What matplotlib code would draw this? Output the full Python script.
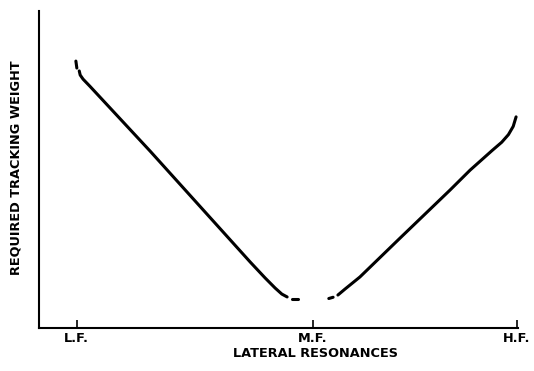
import matplotlib
matplotlib.use("Agg")
import matplotlib.pyplot as plt

# frequency axis runs 0..100, tracking weight 0..100 (arbitrary units)
tick_pos = [7.9, 57.2, 99.8]
tick_labels = ["L.F.", "M.F.", "H.F."]

# falling branch (low-frequency side), drawn as three pieces
lf_dash_x = [7.7, 7.9]
lf_dash_y = [84.2, 82.0]
lf_x = [8.4, 8.6, 9.2, 10.6, 23.2, 44.1, 47.2, 49.3, 50.7, 51.8]
lf_y = [81.1, 79.8, 78.5, 76.3, 55.8, 20.8, 15.8, 12.6, 10.7, 9.8]
lf_tail_x = [52.8, 54.1]
lf_tail_y = [9.1, 9.1]

# rising branch (high-frequency side)
hf_head_x = [60.5, 61.4]
hf_head_y = [9.3, 9.7]
hf_x = [62.4, 63.9, 67.0, 75.4, 85.8, 90.0, 94.6, 96.6, 98.0, 99.0, 99.6]
hf_y = [10.4, 12.3, 16.1, 28.4, 43.5, 49.8, 56.0, 58.6, 61.0, 63.6, 66.6]

fig = plt.figure(figsize=(5.34, 3.71), dpi=100)
ax = fig.add_axes([39 / 534, 43 / 371, 479 / 534, 317 / 371])

line_kw = dict(color="black", lw=2.2, solid_capstyle="round", solid_joinstyle="round")
for xs, ys in [(lf_dash_x, lf_dash_y), (lf_x, lf_y), (lf_tail_x, lf_tail_y),
               (hf_head_x, hf_head_y), (hf_x, hf_y)]:
    ax.plot(xs, ys, **line_kw)

ax.set_xlim(0, 100)
ax.set_ylim(0, 100)
for side in ["top", "right"]:
    ax.spines[side].set_visible(False)
for side in ["left", "bottom"]:
    ax.spines[side].set_linewidth(1.5)
    ax.spines[side].set_color("black")

label_kw = dict(fontsize=9.3, fontweight="bold", family="DejaVu Sans")
ax.set_yticks([])
ax.set_xticks(tick_pos)
ax.set_xticklabels(tick_labels, **label_kw)
ax.tick_params(axis="x", direction="in", length=6, width=1.2, pad=3)

ax.set_xlabel("LATERAL RESONANCES", labelpad=1, **label_kw)
ax.xaxis.label.set_x(0.577)
ax.set_ylabel("REQUIRED TRACKING WEIGHT", labelpad=12, **label_kw)
ax.yaxis.label.set_y(0.505)

fig.savefig("out.png", dpi=100)
